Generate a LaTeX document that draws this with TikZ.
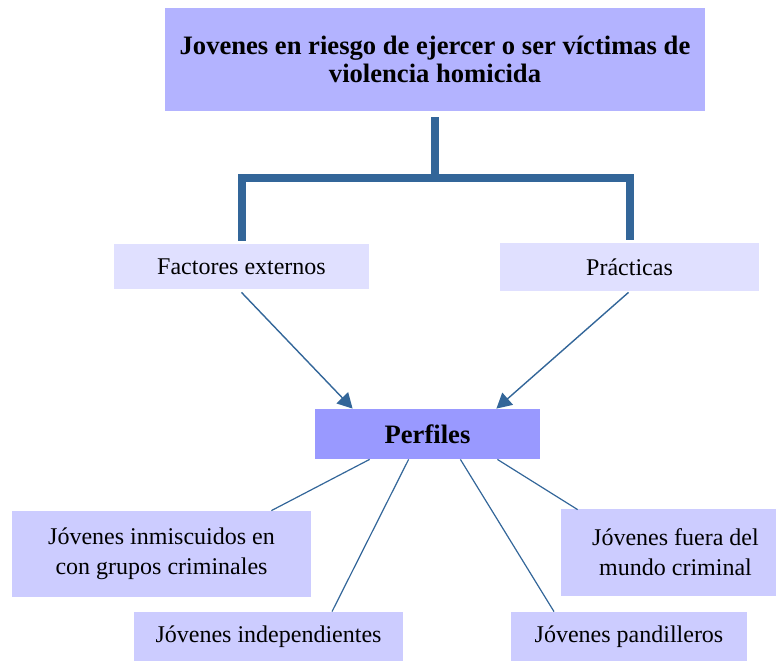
\documentclass[tikz,border=0pt]{standalone}
\usepackage{fontspec}
\setmainfont{Liberation Serif}
\usetikzlibrary{arrows.meta, calc}

\definecolor{linecol}{HTML}{336699}
\definecolor{topfill}{HTML}{B3B3FF}
\definecolor{midfill}{HTML}{E0E0FF}
\definecolor{perffill}{HTML}{9999FF}
\definecolor{lowfill}{HTML}{CCCCFF}

\begin{document}
\begin{tikzpicture}[
    x=0.5pt, y=-0.5pt,
    box/.style={inner sep=0pt, align=center, font=\fontsize{12}{15}\selectfont},
    boldbox/.style={box, font=\fontsize{13.3}{14}\selectfont\bfseries},
    sz/.style 2 args={minimum width=#1*0.5pt, minimum height=#2*0.5pt},
    trunk/.style={draw=linecol, line width=4pt},
    arr/.style={draw=linecol, line width=0.7pt, -{Triangle[length=7.5pt, width=8pt]}},
    link/.style={draw=linecol, line width=0.6pt}
  ]
  \useasboundingbox (0,0) rectangle (776,660);

  \node[boldbox, fill=topfill, sz={540}{103}] (title) at (435,59.5)
    {Jovenes en riesgo de ejercer o ser víctimas de\\violencia homicida};
  \node[box, fill=midfill, sz={255}{45}] (fact) at (241.5,266.5) {Factores externos};
  \node[box, fill=midfill, sz={259}{48}] (prac) at (629.5,267) {Prácticas};
  \node[boldbox, fill=perffill, sz={225}{50}] (perf) at (427.5,434) {Perfiles};
  \node[box, fill=lowfill, sz={299}{86}] (inm) at (161.5,554) {Jóvenes inmiscuidos en\\con grupos criminales};
  \node[box, fill=lowfill, sz={269}{50}] (ind) at (268.5,637) {Jóvenes independientes};
  \node[box, fill=lowfill, sz={236}{50}] (pan) at (629,637) {Jóvenes pandilleros};
  \node[box, fill=lowfill, sz={215}{87}] (fue) at (668.5,552) {\hspace*{7pt}Jóvenes fuera del\\\hspace*{7pt}mundo criminal};

  % fork under the title
  \coordinate (fork) at (435,178);
  \draw[trunk, shorten <=3pt] (title.south) -- (fork);
  \draw[trunk, shorten <=1.5pt, shorten >=1.5pt] (fact.north) |- (fork) -| (prac.north);

  \draw[arr] ($(fact.south)+(0,3)$) -- ($(perf.north west)+(38,0)$);
  \draw[arr] ($(prac.south)+(-1,1)$) -- ($(perf.north east)+(-44,0)$);

  \draw[link] ($(perf.south west)+(55,0)$) -- ($(inm.north east)+(-40,0)$);
  \draw[link] ($(perf.south west)+(94,0)$) -- ($(ind.north)+(63.5,0)$);
  \draw[link] ($(perf.south east)+(-80,0)$) -- ($(pan.north)+(-75,0)$);
  \draw[link] ($(perf.south east)+(-43,0)$) -- ($(fue.north west)+(17,1.5)$);
\end{tikzpicture}
\end{document}
